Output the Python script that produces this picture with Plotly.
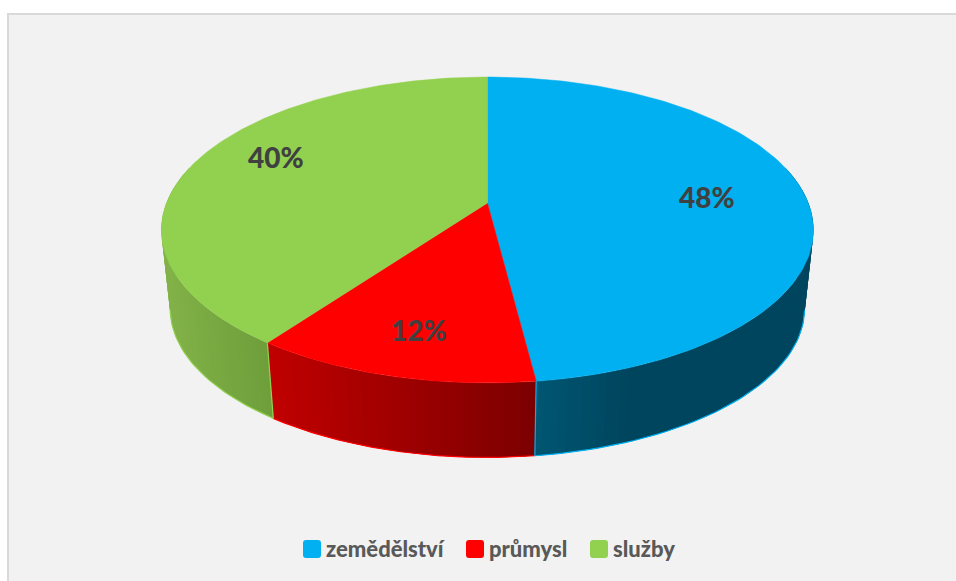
import math
import plotly.graph_objects as go

categories = ["zemědělství", "průmysl", "služby"]
values = [48, 12, 40]
labels = ["48%", "12%", "40%"]
top_colors = ["#00B0F0", "#FF0000", "#92D050"]

W, H = 956, 581
CX, CY = 487.4, 203.0
A, B, K = 320.9, 148.2, 0.1765
SCALE, BOTTOM_Y = 0.973, 282.3

# side shading per category: colour at left and right of its visible side
shade = [((0, 86, 114), (0, 69, 94)), ((192, 0, 0), (124, 0, 0)), ((130, 178, 72), (110, 158, 58))]
label_xy = [(707, 197), (419, 330), (276, 157)]


def top(theta, r=1.0):
    u, v = r * math.sin(theta), -r * math.cos(theta)
    d = 1 - K * v
    return CX + A * u / d, CY + B * v / d


def bottom(theta):
    x, y = top(theta)
    return CX + SCALE * (x - CX), BOTTOM_Y + SCALE * (y - CY)


def frange(a, b, n):
    return [a + (b - a) * i / n for i in range(n + 1)]


def lerp(c0, c1, t):
    t = max(0, min(1, t))
    return "rgb(%d,%d,%d)" % tuple(round(a + (b - a) * t) for a, b in zip(c0, c1))


fig = go.Figure()
total = sum(values)
bounds = [0.0]
for val in values:
    bounds.append(bounds[-1] + 2 * math.pi * val / total)

# sides: overlapping strips painted along the slice, so no seams show between them
for i, val in enumerate(values):
    ts = [t for t in frange(bounds[i], bounds[i + 1], val * 3) if -math.cos(t) > -0.25]
    xs = [bottom(t)[0] for t in ts]
    lo, hi = min(xs), max(xs)
    if i == 0:
        hi = lo + 90
    for j in range(len(ts) - 1):
        arc = ts[j:j + 3]
        outer = [top(t) for t in arc] + [bottom(t) for t in reversed(arc)]
        outer.append(outer[0])
        mx = (bottom(ts[j])[0] + bottom(ts[j + 1])[0]) / 2
        col = lerp(shade[i][0], shade[i][1], (mx - lo) / (hi - lo))
        fig.add_trace(go.Scatter(x=[q[0] for q in outer], y=[q[1] for q in outer], mode="lines",
                                 fill="toself", fillcolor=col, line=dict(width=0),
                                 hoverinfo="skip", showlegend=False))

# bright rim along the lower edge and the slice seams
for i in range(3):
    ts = [t for t in frange(bounds[i], bounds[i + 1], 120) if -math.cos(t) > K]
    pts = [bottom(t) for t in ts]
    fig.add_trace(go.Scatter(x=[q[0] for q in pts], y=[q[1] for q in pts], mode="lines",
                             line=dict(color=top_colors[i], width=1.2), hoverinfo="skip", showlegend=False))
for i, t in [(0, bounds[1]), (2, bounds[2])]:
    a, b = top(t), bottom(t)
    fig.add_trace(go.Scatter(x=[a[0], b[0]], y=[a[1], b[1]], mode="lines",
                             line=dict(color=top_colors[i], width=1.2), hoverinfo="skip", showlegend=False))

# top face
for i in range(3):
    pts = [top(t) for t in frange(bounds[i], bounds[i + 1], 160)]
    xs = [CX] + [q[0] for q in pts] + [CX]
    ys = [CY] + [q[1] for q in pts] + [CY]
    fig.add_trace(go.Scatter(x=xs, y=ys, mode="lines", fill="toself", fillcolor=top_colors[i],
                             line=dict(color=top_colors[i], width=0.5), name=categories[i],
                             hoverinfo="name", showlegend=False))

annotations = []
for (x, y), txt in zip(label_xy, labels):
    annotations.append(dict(x=x, y=y, text=txt, showarrow=False, xref="x", yref="y",
                            font=dict(family="Lato", size=28, weight=900, color="#404040")))

# legend built from swatch + text to keep the original spacing
legend_x = [303, 466, 590]
shapes = [dict(type="rect", xref="x", yref="y", x0=8, y0=14, x1=W + 5, y1=H + 5,
               fillcolor="#F2F2F2", line=dict(color="#D9D9D9", width=2), layer="below")]
for x, col, name in zip(legend_x, top_colors, categories):
    s, r, y0 = 18, 3, 540
    path = (f"M{x+r},{y0} L{x+s-r},{y0} Q{x+s},{y0} {x+s},{y0+r} L{x+s},{y0+s-r} Q{x+s},{y0+s} {x+s-r},{y0+s} "
            f"L{x+r},{y0+s} Q{x},{y0+s} {x},{y0+s-r} L{x},{y0+r} Q{x},{y0} {x+r},{y0} Z")
    shapes.append(dict(type="path", path=path, xref="x", yref="y", fillcolor=col, line=dict(width=0)))
    annotations.append(dict(x=x + s + 3, y=y0 + s / 2 - 0.5, text=name, showarrow=False, xanchor="left",
                            xref="x", yref="y", font=dict(family="Lato", size=22, weight=900, color="#595959")))

fig.update_layout(width=W, height=H, margin=dict(l=0, r=0, t=0, b=0), paper_bgcolor="#FFFFFF",
                  plot_bgcolor="rgba(0,0,0,0)", showlegend=False, shapes=shapes, annotations=annotations,
                  xaxis=dict(range=[0, W], visible=False, fixedrange=True),
                  yaxis=dict(range=[H, 0], visible=False, fixedrange=True))
fig.write_html("out.html", config=dict(displayModeBar=False),
               post_script="document.body.style.margin='0';document.body.style.overflow='hidden';")
